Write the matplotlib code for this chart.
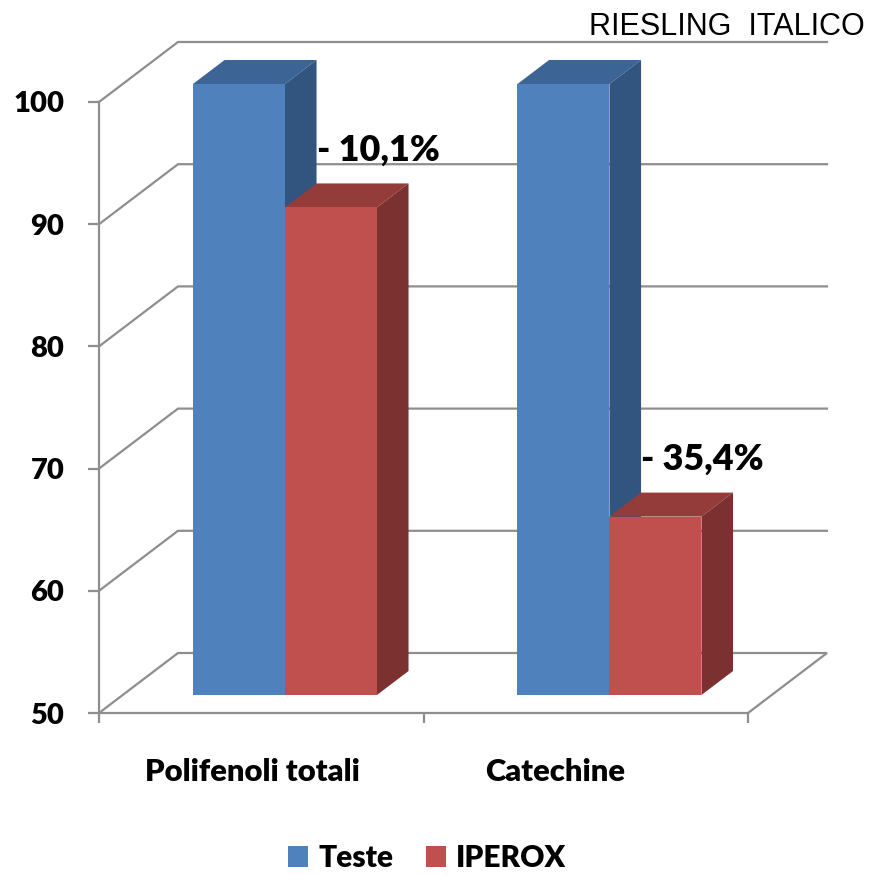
import matplotlib
matplotlib.use("Agg")
import matplotlib.pyplot as plt
from matplotlib.patches import Polygon, Patch
from matplotlib.transforms import IdentityTransform, offset_copy

# ---------------- data ----------------
categories = ["Polifenoli totali", "Catechine"]
series_names = ["Teste", "IPEROX"]
teste_values = [100.0, 100.0]
iperox_values = [89.9, 64.6]
annotations = ["- 10,1%", "- 35,4%"]
y_ticks = [50, 60, 70, 80, 90, 100]
title_text = "RIESLING  ITALICO"

# ---------------- style ----------------
front_cols = ["#4F81BD", "#C0504D"]
top_cols = ["#3C6494", "#943C3A"]
side_cols = ["#325580", "#7B3130"]
grid_col = "#8E8E8E"
FONT = ["Lato", "DejaVu Sans"]
WEIGHT = "heavy"
label_dx = [-9, -31]   # pixel nudges for category labels

W, H, DPI = 872, 875, 100
fig = plt.figure(figsize=(W / DPI, H / DPI), dpi=DPI)
ax = fig.add_axes([99 / W, (H - 713) / H, (748 - 99) / W, (713 - 102) / H])
ax.set_xlim(-0.5, 1.5)
ax.set_ylim(50, 100)
ax.patch.set_visible(False)

# depth of the floor in pixels (oblique projection)
DX, DY = 79.0, 60.0
BAR_D0, BAR_D1 = 0.30, 0.70   # front / back of bars as fraction of depth
BW = 0.2835                   # bar width in category units

def P(x, v, d):
    px, py = ax.transData.transform((x, v))
    return (px + DX * d, py + DY * d)

lw = 1.6
# gridlines on left and back walls
for v in y_ticks:
    pts = [P(-0.5, v, 0), P(-0.5, v, 1), P(1.5, v, 1)]
    if v == y_ticks[0]:
        pts.append(P(1.5, v, 0))
    xs_, ys_ = zip(*pts)
    ax.add_line(plt.Line2D(xs_, ys_, transform=IdentityTransform(), color=grid_col,
                           lw=lw, clip_on=False, zorder=1, solid_joinstyle="miter"))

# spines / ticks
for s in ["top", "right"]:
    ax.spines[s].set_visible(False)
for s in ["left", "bottom"]:
    ax.spines[s].set_color(grid_col)
    ax.spines[s].set_linewidth(lw)
ax.set_yticks(y_ticks)
ax.set_yticklabels([str(t) for t in y_ticks])
ax.tick_params(axis="y", direction="out", length=8, width=lw, color=grid_col,
               pad=17, labelsize=21)
ax.set_xticks([-0.5, 0.5, 1.5])
ax.set_xticklabels([])
ax.tick_params(axis="x", which="major", direction="out", length=7.5, width=lw, color=grid_col)
for lab in ax.get_yticklabels():
    lab.set_family(FONT)
    lab.set_fontweight(WEIGHT)

# category labels
xs = list(range(len(categories)))
for c, name, dx in zip(xs, categories, label_dx):
    t = offset_copy(ax.transData, fig=fig, x=dx, y=-68, units="dots")
    ax.text(c, 50, name, transform=t, ha="center", va="baseline",
            fontsize=22.3, fontweight=WEIGHT, family=FONT, clip_on=False)

# bars
front_t = offset_copy(ax.transData, fig=fig, x=DX * BAR_D0, y=DY * BAR_D0, units="dots")
series = [teste_values, iperox_values]
handles = []
for si, vals in enumerate(series):
    lefts = [c - BW if si == 0 else c for c in xs]
    ax.bar(lefts, [v - 50 for v in vals], width=BW, bottom=50, align="edge",
           color=front_cols[si], transform=front_t, clip_on=False,
           zorder=3 + si * 3, linewidth=0)
    for x0, v in zip(lefts, vals):
        x1 = x0 + BW
        top = [P(x0, v, BAR_D0), P(x1, v, BAR_D0), P(x1, v, BAR_D1), P(x0, v, BAR_D1)]
        side = [P(x1, 50, BAR_D0), P(x1, v, BAR_D0), P(x1, v, BAR_D1), P(x1, 50, BAR_D1)]
        ax.add_patch(Polygon(top, closed=True, transform=IdentityTransform(),
                             facecolor=top_cols[si], edgecolor="none", clip_on=False,
                             zorder=2 + si * 3))
        ax.add_patch(Polygon(side, closed=True, transform=IdentityTransform(),
                             facecolor=side_cols[si], edgecolor="none", clip_on=False,
                             zorder=2 + si * 3))
    handles.append(Patch(facecolor=front_cols[si], edgecolor="none", label=series_names[si]))

# annotations (data-anchored, above IPEROX bars)
for c, txt, v in zip(xs, annotations, iperox_values):
    px, py = P(c, v, BAR_D1)
    ax.text(px + 0, py + 23, txt, transform=IdentityTransform(), ha="left",
            va="baseline", fontsize=25.8, fontweight=WEIGHT, family=FONT, zorder=10)

# title
fig.text(865 / W, (H - 35) / H, title_text, ha="right", va="baseline",
         fontsize=22, family=["Liberation Sans", "DejaVu Sans"])

# legend
leg = fig.legend(handles=handles, loc="center", ncol=2, frameon=False,
                 bbox_to_anchor=(427 / W, (H - 858) / H),
                 prop={"family": FONT, "weight": WEIGHT, "size": 21.5},
                 handlelength=0.67, handleheight=0.67, handletextpad=0.35,
                 columnspacing=1.1, borderaxespad=0, borderpad=0)

fig.savefig("out.png", dpi=DPI, facecolor="white")
